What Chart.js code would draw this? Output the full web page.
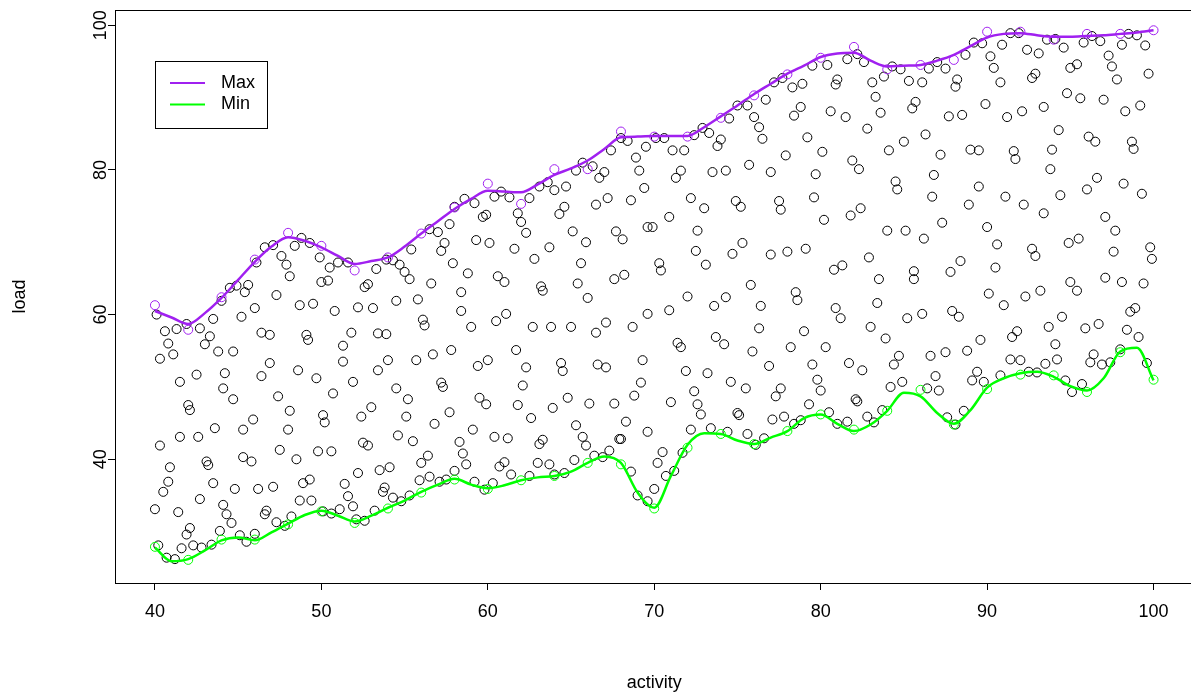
<!DOCTYPE html>
<html lang="en">
<head>
  <meta charset="UTF-8" />
  <title>load vs activity</title>
  <script src="https://cdn.jsdelivr.net/npm/chart.js"></script>
  <style>
    html, body {
      margin: 0;
      padding: 0;
      background: #fff;
      overflow: hidden;
    }
    #plot {
      display: block;
    }
  </style>
</head>
<body>

<canvas id="plot" width="1199" height="695"></canvas>

<script>
  // axis ticks
  const xTicks = [40, 50, 60, 70, 80, 90, 100];
  const yTicks = [40, 60, 80, 100];

  // observations [activity, load]
  const obs = [
    [40.1,60.0],[40.6,57.7],[41.3,58.0],[41.9,58.7],[42.7,58.1],[40.8,56.0],[40.3,53.9],[41.1,54.5],
    [43.0,55.9],[43.3,57.0],[43.5,59.4],[43.8,54.9],[44.7,54.9],[44.0,61.9],[44.5,63.7],[44.9,64.0],
    [45.4,63.1],[45.6,64.1],[45.2,59.7],[46.0,60.9],[46.1,67.2],[46.6,69.3],[47.1,69.6],[47.6,68.1],
    [47.9,66.9],[48.1,65.3],[47.3,62.7],[48.4,69.5],[48.8,70.6],[49.3,69.9],[49.9,67.9],[48.7,61.3],
    [49.5,61.5],[50.0,64.5],[50.4,64.7],[50.5,66.5],[51.0,67.2],[51.6,67.2],[50.8,60.5],[51.8,57.5],
    [51.3,55.7],[51.3,53.5],[52.2,61.0],[53.1,60.9],[53.3,66.3],[52.6,63.8],[52.8,64.2],[53.4,57.4],
    [53.4,52.3],[51.9,50.7],[49.7,51.2],[48.6,52.3],[46.9,53.3],[46.4,51.5],[46.4,57.5],[46.9,57.2],
    [49.1,57.2],[49.2,56.5],[44.2,51.9],[44.1,49.8],[42.5,51.7],[41.5,50.7],
    [50.7,49.1],[44.7,48.3],[47.4,48.7],[42.0,47.5],[42.1,46.8],[40.3,41.9],[41.5,43.1],[42.6,43.1],
    [43.6,44.3],[45.3,44.1],[45.9,45.5],[48.1,46.7],[48.0,44.1],[50.1,46.1],[50.2,45.1],[52.4,45.9],
    [53.0,47.2],[52.5,42.3],[52.8,41.9],[40.9,38.9],[40.8,36.9],[40.5,35.5],[40.0,33.1],[41.4,32.7],
    [43.1,39.7],[43.2,39.2],[42.7,34.5],[43.5,36.7],[44.1,33.7],[44.3,32.4],[44.6,31.2],[43.9,30.1],
    [42.1,30.5],[41.9,29.6],[41.6,27.7],[42.3,28.1],[40.2,28.1],[40.7,26.4],[41.2,26.2],[42.8,27.8],
    [43.4,28.2],[44.8,35.9],[45.3,40.3],[45.8,39.7],[46.2,35.9],[47.1,36.2],[47.5,41.3],[48.5,40.0],
    [49.8,41.1],[50.6,41.1],[48.9,36.7],[49.3,37.2],[48.7,34.3],[49.4,34.3],[46.6,32.4],[46.7,32.9],
    [47.3,31.3],[47.8,30.8],[48.2,32.1],[45.1,29.5],[45.5,28.6],[46.0,29.7],[50.1,32.8],[50.6,32.5],
    [51.1,33.1],[51.9,33.5],[51.6,34.9],[51.4,36.6],[52.2,38.1],[53.5,38.5],[53.7,35.5],[52.6,31.5],
    [52.1,31.7],[53.2,32.9],
    [58.6,76.0],[60.4,76.3],[60.8,77.0],[61.3,76.2],[62.5,76.1],[63.1,77.7],[63.6,78.3],[64.0,77.2],
    [64.7,77.7],[65.3,79.9],[65.7,81.0],[66.3,80.5],[67.0,79.7],[66.7,78.9],[67.4,82.7],[68.0,84.4],
    [68.4,84.0],[68.9,81.7],[69.1,79.9],[69.5,83.2],[69.4,77.5],[67.2,76.1],[68.6,75.8],
    [53.9,67.6],[54.3,67.5],[54.7,66.9],[55.0,65.9],[55.3,64.9],[55.4,69.0],[56.5,71.8],[57.0,71.4],
    [57.7,72.5],[57.4,69.9],[57.2,68.8],[58.0,74.9],[59.2,75.4],[59.7,73.5],[59.9,73.8],[59.3,70.3],
    [60.1,69.9],[57.9,67.1],[58.8,65.7],[56.6,64.3],[54.5,61.9],[55.8,62.1],[58.4,63.1],[58.4,60.5],
    [60.6,65.3],[61.0,64.5],[61.6,69.1],[61.8,74.0],[62.0,72.8],[62.3,71.3],[62.8,67.7],[63.7,69.3],
    [64.3,73.9],[64.6,74.9],[65.1,71.5],[65.9,70.0],[65.6,67.1],[66.5,75.2],[67.7,71.5],[68.1,70.4],
    [69.6,72.1],[65.4,64.3],[66.0,62.3],[67.6,64.9],[68.2,65.5],[63.2,63.9],[63.3,63.3],[56.1,59.3],
    [56.2,58.5],[59.0,58.3],[60.5,59.1],[61.1,60.1],[62.7,58.3],[63.8,58.3],[65.0,58.3],[66.5,57.5],
    [67.1,58.9],[68.7,58.3],[69.6,60.1],[53.9,57.3],[54.0,53.7],[55.7,53.7],[56.7,54.5],[57.8,55.1],
    [59.4,52.9],[60.0,53.7],[61.7,55.1],[62.3,52.7],[64.4,53.3],[64.5,52.2],[66.6,53.1],[67.1,52.7],
    [69.3,53.7],[69.2,50.6],[57.2,50.6],[57.3,50.0],[54.5,49.8],[62.1,50.2],
    [55.2,48.3],[59.5,48.5],[59.9,47.6],[61.8,47.5],[63.9,47.1],[64.8,48.5],[66.1,47.7],[67.6,47.7],
    [68.8,48.8],[55.1,45.9],[57.7,46.5],[56.8,44.9],[54.6,43.3],[55.5,42.5],[59.1,44.1],[58.3,42.4],
    [60.4,43.1],[61.2,42.9],[62.6,45.7],[63.3,42.7],[63.1,42.1],[65.3,44.7],[65.7,43.1],[65.9,41.9],
    [68.3,45.2],[67.9,42.8],[68.0,42.8],[69.6,43.8],[56.4,40.5],[56.0,39.5],[58.5,40.8],[58.7,39.3],
    [61.0,39.6],[60.7,39.0],[63.0,39.5],[63.7,39.3],[65.2,39.9],[66.4,40.5],[66.9,40.3],[67.3,41.2],
    [68.6,38.3],[54.1,38.9],[55.9,37.1],[56.5,37.6],[57.1,36.9],[57.5,37.2],[58.0,38.4],[59.2,36.9],
    [60.3,36.7],[59.8,35.8],[61.4,37.9],[62.5,37.7],[64.0,37.9],[64.6,38.1],[53.8,36.1],[54.3,34.7],
    [54.8,34.2],[55.3,35.0],[69.0,35.0],[69.6,34.2],
    [70.1,84.4],[70.6,84.4],[71.1,82.7],[71.8,82.7],[71.6,79.9],[71.3,78.9],[72.4,84.8],[72.9,85.8],
    [73.3,85.1],[74.0,84.2],[73.8,83.3],[74.5,87.1],[75.0,88.9],[75.6,88.9],[76.0,87.3],[76.3,85.9],
    [76.5,84.3],[76.7,89.7],[77.2,92.1],[77.7,92.7],[78.3,91.4],[78.9,91.9],[78.4,87.5],[78.8,88.7],
    [79.5,94.4],[80.4,94.5],[81.0,92.5],[80.9,91.8],[81.6,95.3],[82.2,96.0],[82.6,94.9],[80.6,88.1],
    [81.5,87.3],[79.2,84.5],[80.1,82.5],[77.9,82.0],[75.7,80.7],[77.0,79.7],[79.7,79.4],[81.9,81.3],
    [82.3,80.1],[82.8,85.7],[83.1,92.1],[83.3,90.1],[83.6,87.9],[83.8,92.9],[84.3,94.3],[84.8,93.9],
    [85.3,92.3],[85.7,89.4],[85.5,88.5],[85.0,83.9],[84.1,82.7],[84.5,78.4],[84.6,77.3],[73.5,79.7],
    [74.3,79.9],[72.2,76.1],[74.9,75.7],[77.5,75.7],[79.6,76.2],
    [73.0,74.7],[75.2,74.9],[77.6,74.5],[70.9,73.5],[69.9,72.1],[72.6,71.6],[72.5,68.8],[73.1,66.9],
    [70.3,67.1],[70.4,66.1],[74.7,68.4],[75.3,69.9],[77.0,68.3],[78.0,68.7],[79.1,69.1],[80.2,73.1],
    [81.8,73.7],[82.4,74.7],[84.0,71.6],[85.1,71.6],[82.9,67.9],[80.8,66.2],[81.3,66.8],[83.5,64.9],
    [85.6,66.0],[85.6,64.9],[75.8,64.1],[72.0,62.5],[70.9,60.6],[73.6,61.2],[74.3,62.4],[76.4,61.2],
    [78.5,63.1],[78.6,62.0],[80.9,60.9],[81.2,59.5],[83.4,61.6],[85.2,59.5],[83.0,58.3],[83.9,56.7],
    [84.7,54.3],[84.4,53.1],[76.3,58.1],[79.0,57.7],[73.7,56.9],[74.2,55.9],[71.4,56.1],[71.6,55.5],
    [75.9,54.9],[78.2,55.5],[80.3,55.5],[71.9,52.2],[73.2,51.9],[74.6,50.7],[76.9,52.9],[79.5,53.1],
    [79.8,51.0],[81.7,53.3],[82.5,52.3],[84.9,50.7],[84.2,50.0],[72.4,49.4],[75.5,49.8],[77.6,49.8],
    [80.0,49.5],
    [77.3,48.7],[82.1,48.3],[82.2,48.0],[71.0,47.9],[72.6,47.6],[72.8,46.2],[72.2,44.1],[73.4,44.3],
    [74.4,43.8],[75.0,46.4],[75.1,46.1],[75.6,43.5],[76.6,42.9],[76.1,42.0],[77.1,45.5],[77.8,45.9],
    [78.4,44.9],[78.8,45.4],[79.3,47.6],[80.5,46.5],[81.0,44.9],[81.6,45.2],[82.8,45.9],[83.2,45.1],
    [83.7,46.8],[70.5,41.0],[70.2,39.5],[71.7,40.9],[70.7,37.7],[71.2,38.4],[70.0,35.9],
    [86.5,94.0],[87.0,94.9],[87.5,94.0],[86.1,92.1],[88.2,92.5],[88.1,91.5],[88.7,95.9],[89.2,97.6],
    [89.7,97.5],[90.2,95.7],[90.4,94.1],[90.8,92.1],[90.9,97.3],[91.4,98.9],[91.9,98.9],[92.4,96.6],
    [93.1,96.1],[92.7,92.7],[92.9,93.3],[93.6,98.0],[94.1,98.1],[94.6,96.9],[95.0,94.1],[95.4,94.6],
    [95.8,97.6],[96.3,98.5],[96.8,97.8],[97.3,95.8],[97.5,94.3],[97.8,92.5],[98.1,97.3],[98.5,98.8],
    [99.0,98.6],[99.5,97.2],[99.7,93.3],[89.9,89.1],[91.2,87.3],[92.1,88.1],[93.4,88.7],[94.8,90.6],
    [95.6,89.9],[97.0,89.7],[98.3,88.1],[99.2,88.9],[87.7,87.4],[88.5,87.6],[86.3,84.9],[94.3,85.5],
    [96.1,84.6],[96.5,83.9],[98.7,83.9],[98.8,82.9],[89.0,82.8],[89.5,82.7],[87.2,82.1],[91.6,82.6],
    [91.7,81.5],[93.9,82.8],[93.8,80.1],[86.8,79.3],[89.5,77.7],[86.7,76.3],[91.1,76.3],[94.4,76.5],
    [96.0,77.3],[96.6,78.9],[98.2,78.1],[99.3,76.7],
    [88.9,75.2],[92.2,75.2],[93.4,74.0],[97.1,73.5],[97.7,71.6],[87.3,72.7],[90.0,72.1],[86.2,70.5],
    [90.6,69.7],[92.7,69.1],[92.9,68.1],[94.9,69.9],[95.5,70.5],[97.6,68.7],[99.8,69.3],[99.9,67.7],
    [88.4,67.4],[87.8,65.9],[90.5,66.5],[95.0,64.5],[95.4,63.3],[97.1,65.1],[98.1,64.5],[99.4,64.3],
    [90.1,62.9],[92.3,62.5],[93.2,63.3],[91.0,61.3],[86.1,60.1],[87.9,60.5],[88.3,59.7],[98.6,60.4],
    [98.9,60.9],[94.5,59.7],[93.7,58.3],[91.8,57.7],[91.5,56.9],[89.6,56.5],[95.9,58.1],[96.7,58.7],
    [98.4,57.9],[99.1,56.9],[94.1,55.9],[88.8,55.0],[87.5,54.8],[86.6,54.3],[91.4,53.8],[92.0,53.7],
    [93.5,53.2],[94.2,53.8],[96.4,54.5],[96.2,53.4],[96.9,53.1],[97.4,53.4],[98.0,55.2],[99.6,53.3],
    [86.9,51.5],[89.4,52.1],[89.1,50.9],[89.8,50.7],[90.8,51.6],[92.5,52.1],[93.0,52.0],[94.7,50.9],
    [95.7,50.4],[86.4,49.8],[87.1,49.5],
    [87.6,45.8],[88.6,46.7],[88.1,44.8],[95.1,49.3]
  ];

  // per-bin extremes, every 2 units of activity
  const binX = [40, 42, 44, 46, 48, 50, 52, 54, 56, 58, 60, 62, 64, 66, 68, 70,
                72, 74, 76, 78, 80, 82, 84, 86, 88, 90, 92, 94, 96, 98, 100];
  const binMax = [61.3, 57.9, 62.4, 67.6, 71.3, 69.5, 66.1, 67.9, 71.2, 74.8,
                  78.1, 75.3, 80.1, 80.1, 85.3, 84.6, 84.6, 87.2, 90.3, 93.2,
                  95.5, 97.0, 93.9, 94.5, 95.2, 99.1, 99.1, 98.0, 98.8, 98.8, 99.3];
  const binMin = [27.9, 26.1, 28.9, 28.9, 31.0, 32.8, 31.2, 33.2, 35.4, 37.2,
                  35.9, 37.1, 37.7, 39.5, 39.3, 33.2, 41.6, 43.5, 42.1, 43.9,
                  46.2, 44.1, 46.7, 49.6, 44.8, 49.7, 51.7, 51.6, 49.3, 54.8, 51.0];

  // smoothed curves read at each unit of activity
  const curveX = [40, 41, 42, 43, 44, 45, 46, 47, 48, 49, 50, 51, 52, 53, 54, 55, 56, 57, 58, 59,
                  60, 61, 62, 63, 64, 65, 66, 67, 68, 69, 70, 71, 72, 73, 74, 75, 76, 77, 78, 79,
                  80, 81, 82, 83, 84, 85, 86, 87, 88, 89, 90, 91, 92, 93, 94, 95, 96, 97, 98, 99, 100];
  const maxCurve = [60.5, 59.6, 58.7, 60.2, 62.3, 64.8, 67.3, 69.4, 70.7, 70.2,
                    69.3, 68.1, 67.0, 67.4, 67.9, 69.4, 71.2, 72.9, 74.6, 76.0,
                    77.1, 77.0, 76.9, 78.0, 79.3, 80.2, 81.3, 82.9, 84.5, 84.6,
                    84.7, 84.7, 84.7, 85.9, 87.4, 88.9, 90.5, 91.9, 93.3, 94.4,
                    95.6, 96.1, 96.2, 95.1, 94.3, 94.4, 94.5, 95.1, 95.9, 97.1,
                    98.3, 98.8, 98.9, 98.6, 98.4, 98.4, 98.5, 98.6, 98.8, 99.0, 99.3];
  const minCurve = [27.8, 25.9, 26.2, 27.4, 28.8, 29.2, 28.8, 29.9, 31.1, 32.3,
                    32.9, 32.2, 31.4, 32.2, 33.3, 34.3, 35.5, 36.5, 37.3, 36.5,
                    36.0, 36.4, 37.1, 37.5, 37.7, 38.3, 39.5, 40.4, 39.5, 35.4,
                    33.3, 37.7, 42.0, 43.6, 43.5, 42.6, 42.1, 43.0, 43.9, 45.7,
                    46.2, 44.9, 43.9, 44.8, 46.7, 49.2, 48.7, 46.4, 44.9, 46.8,
                    49.9, 51.2, 51.9, 52.1, 51.4, 50.1, 49.5, 51.2, 54.9, 55.4, 50.9];

  const PURPLE = '#a020f0';
  const GREEN = '#00ff00';
  const FONT = { family: "'Liberation Sans', Arial, sans-serif", size: 18 };

  const toXY = (xs, ys) => xs.map((x, i) => ({ x: x, y: ys[i] }));

  // box round the plot region, like R's box()
  const frame = {
    id: 'frame',
    beforeDatasetsDraw(chart) {
      const { ctx, chartArea: a } = chart;
      ctx.save();
      ctx.strokeStyle = '#000';
      ctx.lineWidth = 1;
      ctx.strokeRect(Math.round(a.left) + 0.5, Math.round(a.top) + 0.5,
                     Math.round(a.right - a.left), Math.round(a.bottom - a.top));
      ctx.restore();
    }
  };

  // legend box in the top left corner of the plot
  const boxLegend = {
    id: 'boxLegend',
    afterDraw(chart, args, opts) {
      const ctx = chart.ctx;
      const items = chart.data.datasets.filter(d => d.inLegend);
      ctx.save();
      ctx.strokeStyle = '#000';
      ctx.lineWidth = 1;
      ctx.strokeRect(opts.x + 0.5, opts.y + 0.5, opts.w, opts.h);
      ctx.font = FONT.size + 'px ' + FONT.family;
      ctx.textBaseline = 'middle';
      ctx.fillStyle = '#000';
      items.forEach((d, i) => {
        const y = opts.y + opts.firstRow + i * opts.rowGap;
        ctx.strokeStyle = d.borderColor;
        ctx.lineWidth = 2;
        ctx.beginPath();
        ctx.moveTo(opts.x + 15, y);
        ctx.lineTo(opts.x + 50, y);
        ctx.stroke();
        ctx.fillText(d.label, opts.x + 66, y);
      });
      ctx.restore();
    }
  };

  new Chart(document.getElementById('plot'), {
    type: 'scatter',
    data: {
      datasets: [
        {
          label: 'Max',
          inLegend: true,
          data: toXY(curveX, maxCurve),
          showLine: true,
          cubicInterpolationMode: 'monotone',
          borderColor: PURPLE,
          borderWidth: 2.5,
          pointRadius: 0,
          order: 0
        },
        {
          label: 'Min',
          inLegend: true,
          data: toXY(curveX, minCurve),
          showLine: true,
          cubicInterpolationMode: 'monotone',
          borderColor: GREEN,
          borderWidth: 2.5,
          pointRadius: 0,
          order: 0
        },
        {
          label: 'bin max',
          data: toXY(binX, binMax),
          pointRadius: 4.5,
          pointBorderWidth: 1,
          borderColor: PURPLE,
          backgroundColor: 'rgba(0,0,0,0)',
          order: 1
        },
        {
          label: 'bin min',
          data: toXY(binX, binMin),
          pointRadius: 4.5,
          pointBorderWidth: 1,
          borderColor: GREEN,
          backgroundColor: 'rgba(0,0,0,0)',
          order: 1
        },
        {
          label: 'load',
          data: obs.map(p => ({ x: p[0], y: p[1] })),
          pointRadius: 4.5,
          pointBorderWidth: 1,
          borderColor: '#000',
          backgroundColor: 'rgba(0,0,0,0)',
          order: 2
        }
      ]
    },
    options: {
      responsive: false,
      animation: false,
      layout: { padding: { top: 10, left: 0, right: 0, bottom: 0 } },
      plugins: {
        legend: { display: false },
        tooltip: { enabled: false },
        boxLegend: { x: 155, y: 61, w: 112, h: 67, firstRow: 22, rowGap: 21.5 }
      },
      scales: {
        x: {
          type: 'linear',
          min: 37.6,
          max: 102.4,
          afterFit: s => { s.height = 112; },
          afterBuildTicks: s => { s.ticks = xTicks.map(v => ({ value: v })); },
          border: { display: false },
          grid: { drawOnChartArea: false, drawTicks: true, tickLength: 7, color: '#000', lineWidth: 1 },
          ticks: { font: FONT, color: '#000', padding: 11, maxRotation: 0, autoSkip: false },
          title: { display: true, text: 'activity', font: FONT, color: '#000', padding: { top: 0, bottom: 1 } }
        },
        y: {
          type: 'linear',
          min: 22.9,
          max: 102.1,
          afterFit: s => { s.width = 115; },
          afterBuildTicks: s => { s.ticks = yTicks.map(v => ({ value: v })); },
          border: { display: false },
          grid: { drawOnChartArea: false, drawTicks: true, tickLength: 7, color: '#000', lineWidth: 1 },
          ticks: { font: FONT, color: '#000', padding: -8, minRotation: 90, maxRotation: 90, crossAlign: 'center', autoSkip: false },
          title: { display: true, text: 'load', font: FONT, color: '#000', padding: { top: 9, bottom: 0 } }
        }
      }
    },
    plugins: [frame, boxLegend]
  });
</script>
</body>
</html>
